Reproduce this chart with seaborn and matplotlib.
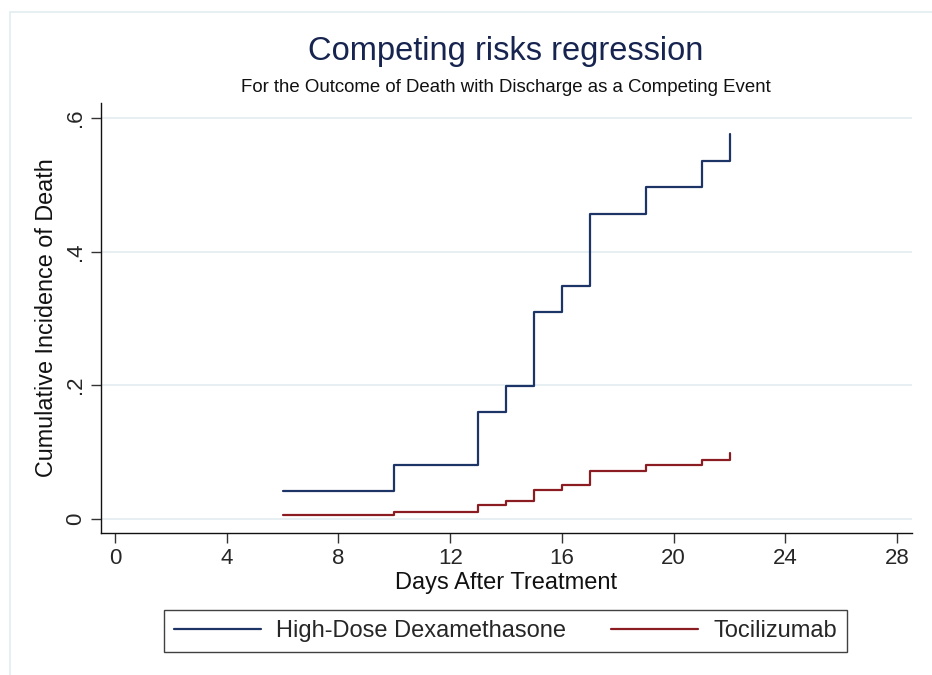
import matplotlib
matplotlib.use("Agg")
import matplotlib.pyplot as plt
import seaborn as sns
import pandas as pd
from matplotlib.lines import Line2D
from matplotlib.patches import Rectangle

# Cumulative incidence step estimates by day after treatment
days = [6, 10, 13, 14, 15, 16, 17, 19, 21, 22]
cif_dexa = [0.041, 0.081, 0.159, 0.198, 0.309, 0.348, 0.457, 0.496, 0.536, 0.576]
cif_toci = [0.005, 0.010, 0.020, 0.026, 0.043, 0.050, 0.071, 0.080, 0.088, 0.099]
groups = ["High-Dose Dexamethasone", "Tocilizumab"]
x_ticks = [0, 4, 8, 12, 16, 20, 24, 28]
y_ticks = [0, 0.2, 0.4, 0.6]
y_tick_labels = ["0", ".2", ".4", ".6"]

df = pd.DataFrame({
    "day": days * 2,
    "cif": cif_dexa + cif_toci,
    "group": [groups[0]] * len(days) + [groups[1]] * len(days),
})

sns.set_theme(style="white")
plt.rcParams["font.family"] = ["Liberation Sans", "DejaVu Sans"]

colors = {groups[0]: "#1c3566", groups[1]: "#8a1c22"}

fig = plt.figure(figsize=(9.32, 6.75), dpi=100)
fig.patch.set_facecolor("white")
# light outer frame of the graph region
fig.add_artist(Rectangle((10 / 932, -0.05), 1.1, (675 - 12) / 675 + 0.05,
                         transform=fig.transFigure, fill=False,
                         edgecolor="#e2ecef", linewidth=1.2))

ax = fig.add_axes([101 / 932, 1 - 533 / 675, (912 - 101) / 932, (533 - 103) / 675])

sns.lineplot(data=df, x="day", y="cif", hue="group", palette=colors,
             drawstyle="steps-post", linewidth=1.6, legend=False, ax=ax,
             estimator=None, sort=True)

ax.set_xlim(-0.5, 28.53)
ax.set_ylim(-0.0215, 0.6225)
ax.set_xticks(x_ticks)
ax.set_yticks(y_ticks)
ax.set_yticklabels(y_tick_labels, rotation=90, va="center")
ax.tick_params(axis="both", direction="out", length=7, width=1.0,
               color="#333333", labelsize=16, pad=4, bottom=True, left=True)
for lab in ax.get_yticklabels():
    lab.set_va("center")

ax.grid(axis="y", color="#e3ecf0", linewidth=1.2)
ax.set_axisbelow(True)
for side in ["top", "right"]:
    ax.spines[side].set_visible(False)
for side in ["left", "bottom"]:
    ax.spines[side].set_color("#111111")
    ax.spines[side].set_linewidth(1.0)

ax.set_xlabel("Days After Treatment", fontsize=17, labelpad=2, color="#111111")
ax.set_ylabel("Cumulative Incidence of Death", fontsize=16.8, labelpad=4.5, color="#111111")

fig.text(506 / 932, 1 - 51.5 / 675, "Competing risks regression", ha="center",
         va="center", fontsize=23.5, color="#16244f")
fig.text(506 / 932, 1 - 88 / 675, "For the Outcome of Death with Discharge as a Competing Event",
         ha="center", va="center", fontsize=13.4, color="#111111")

handles = [Line2D([], [], color=colors[g], linewidth=1.6) for g in groups]
leg = fig.legend(handles, groups, loc="center", bbox_to_anchor=(505.5 / 932, 1 - 631 / 675),
                 ncol=2, frameon=True, fontsize=17, handlelength=3.69,
                 columnspacing=1.9, handletextpad=0.64, borderpad=0.42,
                 borderaxespad=0, fancybox=False)
leg.get_frame().set_edgecolor("#111111")
leg.get_frame().set_linewidth(1.0)

fig.savefig("out.png", dpi=100, facecolor="white")
